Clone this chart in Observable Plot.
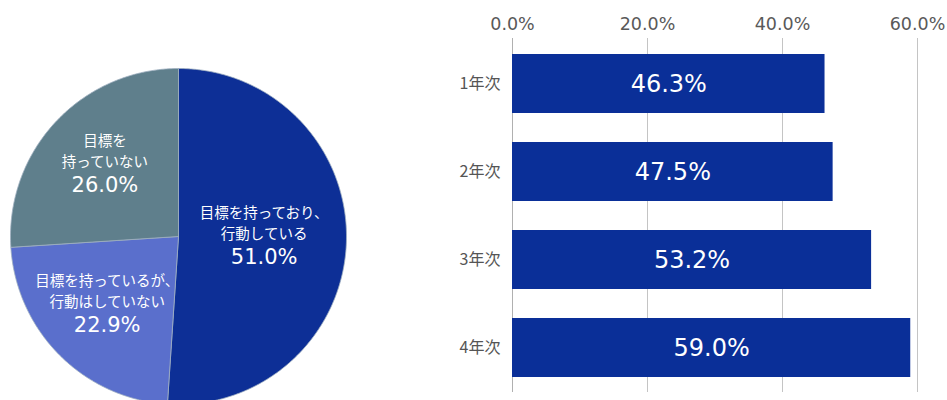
<!DOCTYPE html>
<html><head><meta charset="utf-8">
<script src="https://cdn.jsdelivr.net/npm/d3@7"></script>
<script src="https://cdn.jsdelivr.net/npm/@observablehq/plot@0.6"></script>
<style>
body{margin:0;background:#fff;font-family:"Noto Sans CJK JP",sans-serif}
#wrap{display:flex;width:947px;height:400px;overflow:hidden}
#wrap svg{display:block;overflow:visible}
</style>
</head><body><div id="wrap"></div>
<script>
// ---- data ----
const pieLabels = ["目標を持っており、\n行動している", "目標を持っているが、\n行動はしていない", "目標を\n持っていない"];
const pieValues = [51.0, 22.9, 26.0];
const pieColors = ["#0d2f96", "#5a6fcc", "#5f7f8c"];
const years = ["1年次", "2年次", "3年次", "4年次"];
const yearValues = [46.3, 47.5, 53.2, 59.0];
const xTicks = [0, 20, 40, 60];
const barColor = "#0a2f98";

// ---- pie (drawn with Plot.line polygons on linear x/y scales) ----
const R = 168;
const arcs = d3.pie().sort(null)(pieValues);
const slices = arcs.map((a, i) => {
  const pts = [{x: 0, y: 0}];
  const n = Math.max(2, Math.ceil((a.endAngle - a.startAngle) / 0.01));
  for (let k = 0; k <= n; k++) {
    const t = a.startAngle + (a.endAngle - a.startAngle) * k / n;
    pts.push({x: R * Math.sin(t), y: R * Math.cos(t)});
  }
  pts.push({x: 0, y: 0});
  return pts;
});
const labelRows = arcs.map((a, i) => {
  const m = (a.startAngle + a.endAngle) / 2;
  const f = i === 0 ? 0.51 : 0.6;
  return {x: R * f * Math.sin(m), y: R * f * Math.cos(m) + 6, label: pieLabels[i], pct: pieValues[i].toFixed(1) + "%"};
});

const pie = Plot.plot({
  width: 360, height: 400,
  margin: 0,
  x: {domain: [-178, 182], axis: null},
  y: {domain: [-164, 236], axis: null},
  marks: [
    ...slices.map((s, i) => Plot.line(s, {x: "x", y: "y", fill: pieColors[i], stroke: "#9fb0c0", strokeWidth: 0.8, curve: "linear"})),
    Plot.text(labelRows, {x: "x", y: "y", text: "label", dy: -12, fill: "white", fontSize: 14.5, lineHeight: 1.45, fontFamily: "Noto Sans CJK JP"}),
    Plot.text(labelRows, {x: "x", y: "y", text: "pct", dy: 24, fill: "white", fontSize: 21, fontFamily: "DejaVu Sans", letterSpacing: 1})
  ]
});

// ---- bars ----
const barData = years.map((y, i) => ({year: y, value: yearValues[i]}));
const bars = Plot.plot({
  width: 587, height: 400,
  marginLeft: 152, marginRight: 30, marginTop: 38, marginBottom: 8,
  x: {domain: [0, 60], axis: null},
  y: {domain: years, paddingInner: 0.33, paddingOuter: 0.165, axis: null},
  marks: [
    Plot.gridX(xTicks, {stroke: "#c4c4c4", strokeOpacity: 1}),
    Plot.ruleX([0], {stroke: "#b0b0b0"}),
    Plot.axisX(xTicks, {anchor: "top", tickSize: 0, tickPadding: 9, tickFormat: d => d.toFixed(1) + "%", fontSize: 17.5, fontFamily: "DejaVu Sans", fill: "#595959", label: null}),
    Plot.axisY({tickSize: 0, tickPadding: 12, fontSize: 16, fontFamily: "Noto Sans CJK JP", fill: "#555", label: null}),
    Plot.barX(barData, {x: "value", y: "year", fill: barColor}),
    Plot.text(barData, {x: d => d.value / 2, y: "year", text: d => d.value.toFixed(1) + "%", fill: "white", fontSize: 24, fontFamily: "DejaVu Sans"})
  ]
});

const wrap = document.getElementById("wrap");
wrap.append(pie, bars);
</script>
</body></html>
